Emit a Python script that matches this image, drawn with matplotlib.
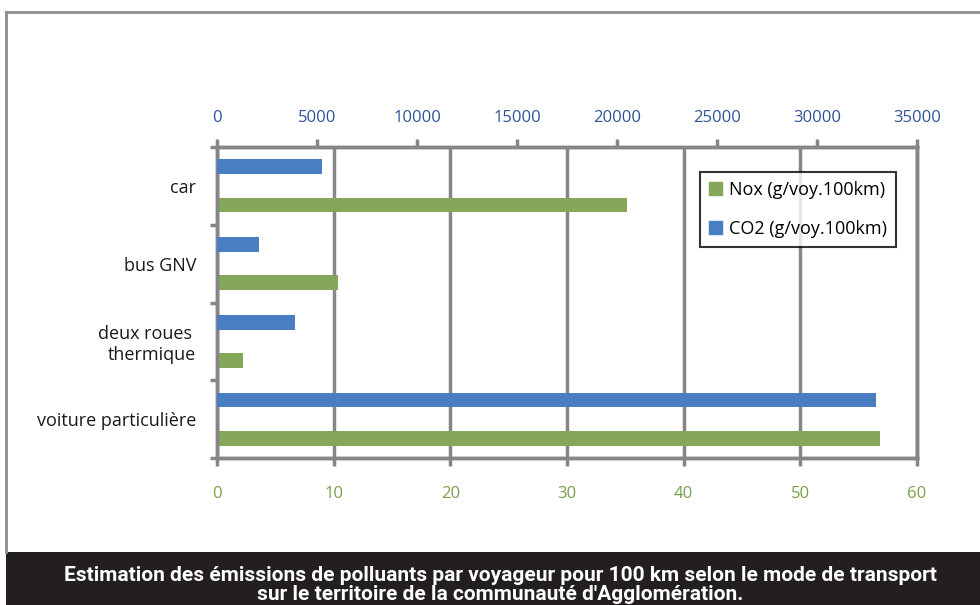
import matplotlib
matplotlib.use("Agg")
import matplotlib.pyplot as plt
from matplotlib.lines import Line2D
from matplotlib.patches import Rectangle, Patch

# ── data ─────────────────────────────────────────────────────────────────────
categories = ["car", "bus GNV", "deux roues \nthermique", "voiture particulière"]
nox_values = [35.1, 10.4, 2.2, 56.8]          # g/voy.100km (bottom axis)
co2_values = [5250, 2100, 3900, 32950]        # g/voy.100km (top axis)
nox_ticks = [0, 10, 20, 30, 40, 50, 60]
co2_ticks = [0, 5000, 10000, 15000, 20000, 25000, 30000, 35000]
nox_label = "Nox (g/voy.100km)"
co2_label = "CO2 (g/voy.100km)"
caption = ("Estimation des émissions de polluants par voyageur pour 100 km selon le mode de transport\n"
           "sur le territoire de la communauté d'Agglomération.")

# ── style ────────────────────────────────────────────────────────────────────
GREEN = "#84a75a"
BLUE = "#4a7ec2"
GRID = "#86868a"
plt.rcParams["font.family"] = ["Open Sans", "DejaVu Sans"]

fig = plt.figure(figsize=(9.8, 6.05), dpi=100)
ax = fig.add_axes([217 / 980, 147 / 605, 700 / 980, 311 / 605])
ax2 = ax.twiny()

ypos = list(range(len(categories)))
bar_h = 0.19
ax.barh([y + 0.245 for y in ypos], nox_values, height=bar_h, color=GREEN, zorder=3)
ax2.barh([y - 0.245 for y in ypos], co2_values, height=bar_h, color=BLUE, zorder=3)

ax.set_xlim(0, 60)
ax2.set_xlim(0, 35000)
ax.set_ylim(3.5, -0.5)

ax.set_xticks(nox_ticks)
ax.set_xticklabels([str(t) for t in nox_ticks], color="#77a04a", fontsize=12)
ax2.set_xticks(co2_ticks)
ax2.set_xticklabels([str(t) for t in co2_ticks], color="#2f5496", fontsize=12)

ax.set_yticks([-0.5, 0.5, 1.5, 2.5, 3.5])
ax.set_yticklabels([])
ax.set_yticks(ypos, minor=True)
ax.set_yticklabels(categories, minor=True, fontsize=13, color="#1a1a1a")
ax.tick_params(axis="y", which="minor", length=0, pad=15)
ax.tick_params(axis="y", which="major", length=5, width=2.5, color=GRID)
ax.tick_params(axis="x", length=6, width=2.5, color=GRID, pad=14)
ax2.tick_params(axis="x", length=6, width=2.5, color=GRID, pad=9)

ax.grid(axis="x", color=GRID, linewidth=2.5, zorder=0)
ax.set_axisbelow(True)
for a in (ax, ax2):
    for s in a.spines.values():
        s.set_color(GRID)
        s.set_linewidth(2.5)

handles = [Patch(color=GREEN), Patch(color=BLUE)]
leg = ax2.legend(handles, [nox_label, co2_label], loc="upper left",
                 bbox_to_anchor=(483 / 700, (458 - 172) / 311), fontsize=13,
                 frameon=True, fancybox=False, handlelength=0.7, handleheight=0.7,
                 handletextpad=0.4, labelspacing=1.15, borderpad=0.5, borderaxespad=0)
leg.get_frame().set_edgecolor("black")
leg.get_frame().set_linewidth(1.5)

# outer frame
fig.add_artist(Line2D([6 / 980, 1], [1 - 12 / 605, 1 - 12 / 605], color="#8c8c8c", lw=2,
                      transform=fig.transFigure))
fig.add_artist(Line2D([6 / 980, 6 / 980], [1 - 12 / 605, 53 / 605], color="#8c8c8c", lw=2,
                      transform=fig.transFigure))

# caption band
fig.add_artist(Rectangle((6 / 980, 0), 1, 53 / 605, transform=fig.transFigure,
                         facecolor="#231f20", edgecolor="none"))
fig.text(500 / 980, 20 / 605, caption, ha="center", va="center", color="white",
         fontsize=15, fontweight="bold", linespacing=0.95, family=["Roboto", "DejaVu Sans"])

fig.savefig("out.png", dpi=100)
